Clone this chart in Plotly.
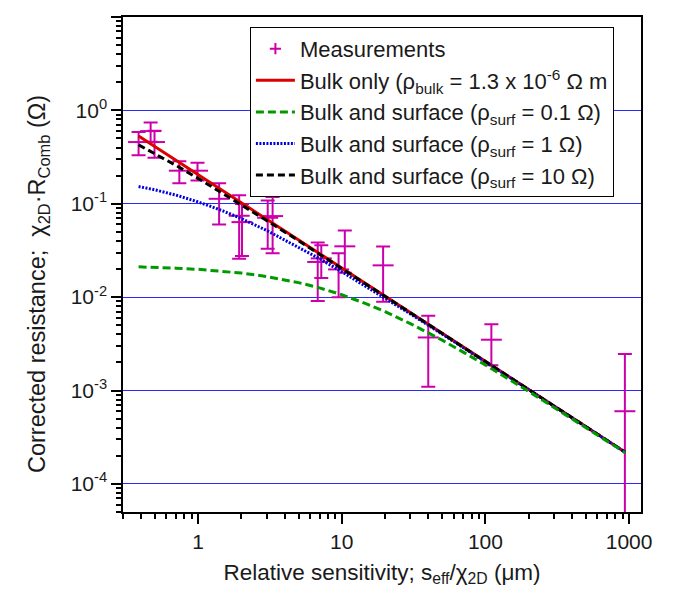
import plotly.graph_objects as go

# ---- data ----
meas_x = [0.385, 0.467, 0.497, 0.74, 0.99, 1.40, 1.93, 2.02, 3.05, 3.30, 6.8, 7.2, 9.5, 10.5, 19.4, 40, 110, 935]
meas_y = [0.458, 0.60, 0.458, 0.226, 0.226, 0.113, 0.0744, 0.0636, 0.0708, 0.0738, 0.0238, 0.026, 0.0198, 0.035, 0.0219, 0.0037, 0.0035, 0.0006]
meas_err = [0.128, 0.14, 0.147, 0.06, 0.049, 0.053, 0.0486, 0.036, 0.0378, 0.0442, 0.0147, 0.010, 0.0098, 0.0168, 0.013, 0.0026, 0.00163, 0.00186]

curve_x = [0.385, 0.5, 0.7, 1, 1.5, 2, 3, 5, 7, 10, 15, 20, 30, 50, 70, 100, 200, 400, 940]
bulk_only = [0.532, 0.410, 0.293, 0.205, 0.137, 0.1025, 0.0683, 0.0410, 0.0293, 0.0205, 0.01367, 0.01025,
             0.00683, 0.00410, 0.00293, 0.00205, 0.001025, 0.000513, 0.000218]
surf_01 = [0.0211, 0.02086, 0.02044, 0.01985, 0.01893, 0.0181, 0.01663, 0.01431, 0.01256, 0.01061, 0.00843,
           0.00699, 0.00521, 0.00346, 0.00258, 0.001875, 0.000979, 0.000501, 0.000216]
surf_1 = [0.153, 0.141, 0.1238, 0.1048, 0.0835, 0.0694, 0.0518, 0.0344, 0.0258, 0.01871, 0.01285, 0.00978,
          0.00662, 0.00402, 0.00289, 0.00203, 0.00102, 0.000511, 0.000218]
surf_10 = [0.427, 0.344, 0.258, 0.187, 0.1285, 0.0978, 0.0662, 0.0402, 0.0289, 0.0203, 0.01358, 0.0102,
           0.00681, 0.00409, 0.00292, 0.002048, 0.001024, 0.000512, 0.000218]

y_tickvals = [1e-4, 1e-3, 1e-2, 1e-1, 1, 10]
y_ticktext = ["10<sup>-4</sup>", "10<sup>-3</sup>", "10<sup>-2</sup>", "10<sup>-1</sup>", "10<sup>0</sup>", "10<sup>1</sup>"]
x_tickvals = [1, 10, 100, 1000]
x_ticktext = ["1", "10", "100", "1000"]

MAG = "#cc00aa"
FONT = "Liberation Sans, Arial, sans-serif"
TXT = "#1a1a1a"

fig = go.Figure()

# measurements (drawn)
fig.add_trace(go.Scatter(
    x=meas_x, y=meas_y, mode="markers", showlegend=False,
    marker=dict(symbol="line-ew", size=15, color=MAG, line=dict(color=MAG, width=2)),
    error_y=dict(type="data", array=meas_err, visible=True, color=MAG, thickness=2, width=7),
))
# legend entry for measurements
fig.add_trace(go.Scatter(
    x=[None], y=[None], mode="markers", name="Measurements", legendrank=1,
    marker=dict(symbol="cross-thin", size=8, color=MAG, line=dict(color=MAG, width=2)),
))
fig.add_trace(go.Scatter(
    x=curve_x, y=bulk_only, mode="lines", legendrank=2,
    name="Bulk only (ρ<sub>bulk</sub> = 1.3 x 10<sup>-6</sup> Ω m",
    line=dict(color="#dd0000", width=3),
))
fig.add_trace(go.Scatter(
    x=curve_x, y=surf_1, mode="lines", legendrank=4,
    name="Bulk and surface (ρ<sub>surf</sub> = 1 Ω)",
    line=dict(color="#0000dd", width=3, dash="2px,1.5px"),
))
fig.add_trace(go.Scatter(
    x=curve_x, y=surf_10, mode="lines", legendrank=5,
    name="Bulk and surface (ρ<sub>surf</sub> = 10 Ω)",
    line=dict(color="#000000", width=3, dash="7px,4px"),
))
fig.add_trace(go.Scatter(
    x=curve_x, y=surf_01, mode="lines", legendrank=3,
    name="Bulk and surface (ρ<sub>surf</sub> = 0.1 Ω)",
    line=dict(color="#009900", width=3, dash="8px,4px"),
))

fig.update_layout(
    width=669, height=583,
    margin=dict(l=115, r=36, t=9, b=79),
    paper_bgcolor="white", plot_bgcolor="white",
    font=dict(family=FONT, size=21, color=TXT),
    legend=dict(
        x=0.245, y=0.98, xanchor="left", yanchor="top",
        bordercolor="black", borderwidth=1, bgcolor="white",
        font=dict(size=22, family=FONT, color=TXT),
        tracegroupgap=0, itemwidth=39,
    ),
    xaxis=dict(
        type="log", range=[-0.523, 3.083], automargin=False,
        tickmode="array", tickvals=x_tickvals, ticktext=x_ticktext,
        ticks="outside", ticklen=10, tickwidth=1.5, tickcolor="black",
        minor=dict(ticks="outside", ticklen=5, tickwidth=1.5, tickcolor="black", dtick="D1", showgrid=False),
        showline=True, linecolor="black", linewidth=1.5, mirror=True,
        showgrid=False, zeroline=False,
        tickfont=dict(size=21, family=FONT, color=TXT),
        title=dict(text="Relative sensitivity; s<sub>eff</sub>/χ<sub>2D</sub> (μm)",
                   font=dict(size=22.5, family=FONT, color=TXT), standoff=12),
    ),
    yaxis=dict(
        type="log", range=[-4.301, 1.0], automargin=False,
        tickmode="array", tickvals=y_tickvals, ticktext=y_ticktext,
        ticks="outside", ticklen=10, tickwidth=1.5, tickcolor="black",
        minor=dict(ticks="outside", ticklen=5, tickwidth=1.5, tickcolor="black", dtick="D1", showgrid=False),
        showline=True, linecolor="black", linewidth=1.5, mirror=True,
        showgrid=True, gridcolor="#2a2aff", gridwidth=1.4, zeroline=False,
        tickfont=dict(size=21, family=FONT, color=TXT),
    ),
    annotations=[dict(
        text="Corrected resistance;  χ<sub>2D</sub>·R<sub>Comb</sub> (Ω)",
        xref="paper", yref="paper", x=-0.164, y=0.4606,
        xanchor="center", yanchor="middle", textangle=-90, showarrow=False,
        font=dict(size=23.5, family=FONT, color=TXT),
    )],
)

fig.write_html("out.html")
